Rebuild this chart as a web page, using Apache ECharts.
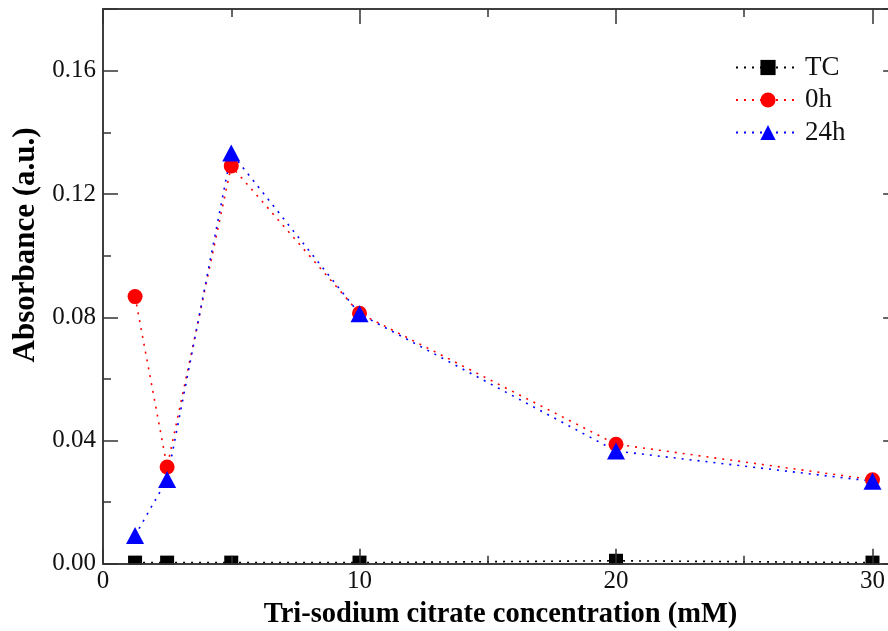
<!DOCTYPE html>
<html>
<head>
<meta charset="utf-8">
<script src="https://cdn.jsdelivr.net/npm/echarts@6/dist/echarts.min.js"></script>
<style>
  html, body { margin: 0; padding: 0; background: #fff; }
  #chart { width: 888px; height: 631px; }
</style>
</head>
<body>
<div id="chart"></div>
<script>
// Tri-sodium citrate concentration (mM)
const concentrations = [1.25, 2.5, 5, 10, 20, 30];
// Absorbance (a.u.)
const tcValues   = [0.0004, 0.0004, 0.0004, 0.0004, 0.001, 0.0004];
const h0Values   = [0.0867, 0.0314, 0.1291, 0.0813, 0.0388, 0.0273];
const h24Values  = [0.0092, 0.0274, 0.1333, 0.0811, 0.0366, 0.0268];
const seriesNames = ['TC', '0h', '24h'];
const xTicks = [0, 10, 20, 30];
const yTicks = [0.00, 0.04, 0.08, 0.12, 0.16];

const FONT = "'Liberation Serif', 'Times New Roman', serif";
const X_MAX = 31, Y_MAX = 0.18;

const pairs = vals => concentrations.map((c, i) => [c, vals[i]]);

function xAxisDef(pos, interval, tickLen, labels) {
  return {
    type: 'value', position: pos, min: 0, max: X_MAX, interval: interval,
    z: 5,
    axisLine: { show: true, onZero: false, lineStyle: { color: '#333', width: 1.5 } },
    axisTick: { show: true, inside: true, length: tickLen, lineStyle: { color: '#333', width: 1.5 } },
    axisLabel: labels ? {
      show: true, margin: 5, fontFamily: FONT, fontSize: 25, color: '#111',
      formatter: v => xTicks.indexOf(v) >= 0 ? String(v) : ''
    } : { show: false },
    splitLine: { show: false }
  };
}
function yAxisDef(pos, interval, tickLen, labels) {
  return {
    type: 'value', position: pos, min: 0, max: Y_MAX, interval: interval,
    z: 5,
    axisLine: { show: true, onZero: false, lineStyle: { color: '#333', width: 1.5 } },
    axisTick: { show: true, inside: true, length: tickLen, lineStyle: { color: '#333', width: 1.5 } },
    axisLabel: labels ? {
      show: true, margin: 7, fontFamily: FONT, fontSize: 25, color: '#111',
      padding: [5, 0, 0, 0],
      formatter: v => yTicks.some(t => Math.abs(t - v) < 1e-9) ? v.toFixed(2) : ''
    } : { show: false },
    splitLine: { show: false }
  };
}

const bottomMajor = xAxisDef('bottom', 10, 15, true);
bottomMajor.name = 'Tri-sodium citrate concentration (mM)';
bottomMajor.nameLocation = 'middle';
bottomMajor.nameGap = 36;
bottomMajor.nameTextStyle = { fontFamily: FONT, fontSize: 28.5, fontWeight: 'bold', color: '#000' };

const leftMajor = yAxisDef('left', 0.04, 15, true);
leftMajor.name = 'Absorbance (a.u.)';
leftMajor.nameLocation = 'middle';
leftMajor.nameGap = 62;
// left padding (before rotation) lifts the title above the plot's middle
leftMajor.nameTextStyle = { fontFamily: FONT, fontSize: 31, fontWeight: 'bold', color: '#000',
                            padding: [0, 0, 0, 83] };

function lineSeries(name, vals, color, symbol, size) {
  return {
    name: name, type: 'line', xAxisIndex: 0, yAxisIndex: 0,
    data: pairs(vals),
    symbol: symbol, symbolSize: size,
    itemStyle: { color: color },
    lineStyle: { color: color, width: 1.6, type: [2, 6] },
    clip: false, animation: false
  };
}

const chart = echarts.init(document.getElementById('chart'), null, { renderer: 'canvas' });
chart.setOption({
  backgroundColor: '#fff',
  animation: false,
  grid: { left: 103, top: 9, width: X_MAX * 25.65, height: Y_MAX * 3082.5,
          outerBoundsMode: 'none', containLabel: false },
  legend: {
    orient: 'vertical', left: 730, top: 49,
    itemWidth: 64, itemHeight: 19, itemGap: 5.5,
    data: seriesNames,
    textStyle: { fontFamily: FONT, fontSize: 27, color: '#111', lineHeight: 19 }
  },
  xAxis: [
    bottomMajor,
    xAxisDef('bottom', 5, 8, false),
    xAxisDef('top', 10, 15, false),
    xAxisDef('top', 5, 8, false)
  ],
  yAxis: [
    leftMajor,
    yAxisDef('left', 0.02, 8, false),
    yAxisDef('right', 0.04, 15, false),
    yAxisDef('right', 0.02, 8, false)
  ],
  series: [
    lineSeries(seriesNames[0], tcValues, '#000000', 'rect', 14),
    lineSeries(seriesNames[1], h0Values, '#ff0000', 'circle', 15),
    lineSeries(seriesNames[2], h24Values, '#0000ff', 'triangle', [18, 17])
  ]
});

// Hide the part of the square markers that falls below the x-axis line
const yZero = chart.convertToPixel({ yAxisIndex: 0 }, 0);
const xStart = chart.convertToPixel({ xAxisIndex: 0 }, 0);
chart.setOption({
  graphic: [{
    type: 'rect', z: 4, silent: true,
    shape: { x: xStart + 1, y: yZero + 1, width: 900, height: 8 },
    style: { fill: '#fff' }
  }]
});
</script>
</body>
</html>
